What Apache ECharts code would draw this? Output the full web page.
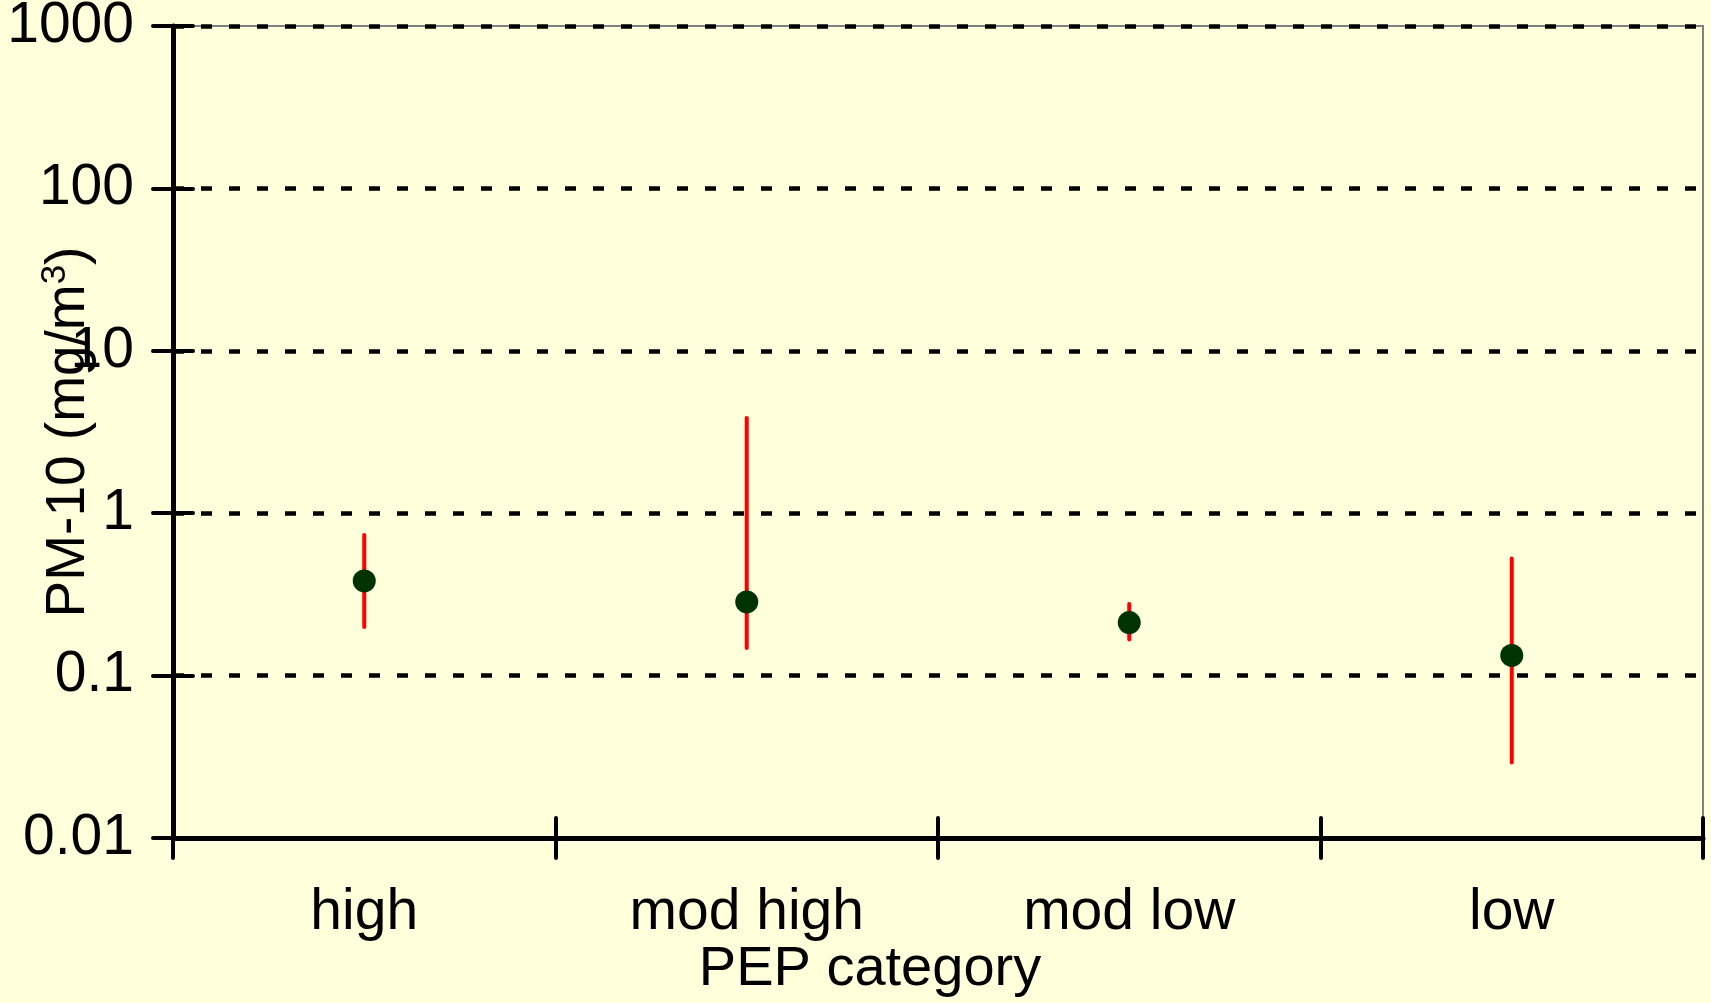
<!DOCTYPE html>
<html>
<head>
<meta charset="utf-8">
<script src="https://cdn.jsdelivr.net/npm/echarts@6/dist/echarts.min.js"></script>
<style>
html,body{margin:0;padding:0;background:#FFFFDB;}
#c{width:1711px;height:1003px;}
</style>
</head>
<body>
<div id="c"></div>
<script>
const categories = ['high', 'mod high', 'mod low', 'low'];
const meanValues = [0.383, 0.284, 0.212, 0.133];
const lowValues = [0.199, 0.148, 0.167, 0.0292];
const highValues = [0.735, 3.86, 0.276, 0.527];
const yTickLabels = ['0.01', '0.1', '1', '10', '100', '1000'];
const yMin = 0.01, yMax = 1000;

const FONT = "'Liberation Sans', Arial, sans-serif";
const chart = echarts.init(document.getElementById('c'), null, {renderer: 'canvas'});

const errData = categories.map((c, i) => [i, lowValues[i], highValues[i]]);
const dotData = categories.map((c, i) => [i, meanValues[i]]);

const tickStyle = {color: '#000', width: 4, cap: 'round'};

const option = {
  backgroundColor: '#FFFFDB',
  animation: false,
  grid: {left: 173, right: 8, top: 26, bottom: 165, containLabel: false, outerBoundsMode: 'none',
    show: true, borderColor: '#808080', borderWidth: 2, backgroundColor: 'transparent'},
  xAxis: [{
    type: 'category', data: categories, position: 'bottom',
    name: 'PEP category', nameLocation: 'middle', nameGap: 104, nameMoveOverlap: false,
    nameTextStyle: {fontFamily: FONT, fontSize: 56, color: '#000', padding: [0, 136, 0, 0]},
    axisLine: {show: true, lineStyle: {color: '#000', width: 5}},
    axisTick: {show: true, length: 20, lineStyle: tickStyle},
    axisLabel: {fontFamily: FONT, fontSize: 57, color: '#000', margin: 47},
    splitLine: {show: false},
    z: 5
  }, {
    type: 'category', data: categories, position: 'bottom',
    axisLine: {show: false},
    axisTick: {show: true, inside: true, length: 20, lineStyle: tickStyle},
    axisLabel: {show: false}, splitLine: {show: false}
  }],
  yAxis: [{
    type: 'log', logBase: 10, min: yMin, max: yMax, interval: 1,
    name: 'PM-10 (mg/m{sup|3})', nameLocation: 'middle', nameGap: 74, nameRotate: 90, nameMoveOverlap: false,
    nameTextStyle: {fontFamily: FONT, fontSize: 55, color: '#000',
      rich: {sup: {fontFamily: FONT, fontSize: 35, color: '#000', verticalAlign: 'top', padding: [0, 0, 26, 0]}}},
    axisLine: {show: true, lineStyle: {color: '#000', width: 5}},
    axisTick: {show: true, length: 20, lineStyle: tickStyle},
    axisLabel: {fontFamily: FONT, fontSize: 57, color: '#000', margin: 39,
      formatter: (v) => yTickLabels[Math.round(Math.log10(v)) + 2]},
    splitLine: {show: true, lineStyle: {color: '#000', width: 4.5, type: [11, 17]}}
  }, {
    type: 'log', logBase: 10, min: yMin, max: yMax, interval: 1, position: 'left',
    axisLine: {show: false},
    axisTick: {show: true, inside: true, length: 20, lineStyle: tickStyle},
    axisLabel: {show: false}, splitLine: {show: false}
  }],
  series: [{
    type: 'custom',
    xAxisIndex: 0, yAxisIndex: 0,
    data: errData,
    encode: {x: 0, y: [1, 2]},
    z: 3,
    renderItem: function (params, api) {
      const p1 = api.coord([api.value(0), api.value(1)]);
      const p2 = api.coord([api.value(0), api.value(2)]);
      return {
        type: 'line',
        shape: {x1: p1[0], y1: p1[1], x2: p2[0], y2: p2[1]},
        style: {stroke: '#FF0000', lineWidth: 4, lineCap: 'round'}
      };
    }
  }, {
    type: 'scatter',
    xAxisIndex: 0, yAxisIndex: 0,
    data: dotData,
    symbol: 'circle', symbolSize: 23,
    itemStyle: {color: '#003300', opacity: 1},
    z: 4
  }]
};
chart.setOption(option);
</script>
</body>
</html>
